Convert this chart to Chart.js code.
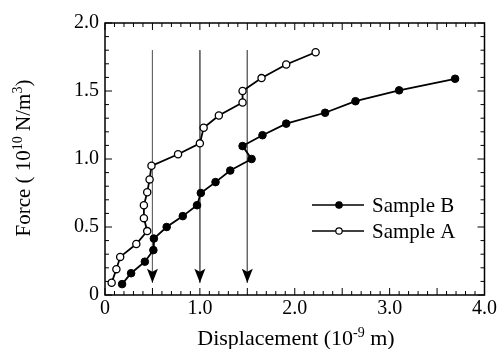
<!DOCTYPE html>
<html>
<head>
<meta charset="utf-8">
<script src="https://cdn.jsdelivr.net/npm/chart.js@4.4.1/dist/chart.umd.min.js"></script>
<style>
  html, body { margin: 0; padding: 0; background: #fff; }
  canvas { display: block; }
</style>
</head>
<body>
<canvas id="forceChart" width="499" height="349"></canvas>
<script>
/* ---------- data ---------- */
const sampleA_x = [0.07, 0.12, 0.16, 0.33, 0.445, 0.41, 0.41, 0.445, 0.47, 0.49, 0.77, 1.0, 1.04, 1.20, 1.45, 1.45, 1.65, 1.91, 2.22];
const sampleA_y = [0.09, 0.19, 0.28, 0.375, 0.47, 0.565, 0.66, 0.755, 0.85, 0.95, 1.035, 1.115, 1.23, 1.32, 1.415, 1.50, 1.595, 1.695, 1.785];
const sampleB_x = [0.18, 0.275, 0.42, 0.51, 0.515, 0.65, 0.82, 0.97, 1.01, 1.165, 1.32, 1.545, 1.45, 1.66, 1.91, 2.32, 2.64, 3.10, 3.69];
const sampleB_y = [0.08, 0.16, 0.245, 0.33, 0.415, 0.50, 0.58, 0.66, 0.75, 0.83, 0.915, 1.0, 1.095, 1.175, 1.26, 1.34, 1.425, 1.505, 1.59];
const arrowX = [0.5, 1.0, 1.5];
const arrowTop = 1.8;
const arrowTip = 0.09;
const xTicks = [0, 1, 2, 3, 4];
const yTicks = [0, 0.5, 1, 1.5, 2];
const minorStep = 0.1;
const majorStep = 0.5;

const FONT = '"Liberation Serif", "Times New Roman", serif';

function pts(xs, ys) {
  return xs.map((x, i) => ({ x: x, y: ys[i] }));
}

/* ---------- arrow datasets (vertical lines) ---------- */
const arrowSets = arrowX.map(x => ({
  label: "arrow",
  data: [{ x: x, y: arrowTop }, { x: x, y: arrowTip }],
  showLine: true,
  borderColor: "#666",
  borderWidth: 1,
  pointRadius: 0,
  isArrow: true
}));

/* ---------- plugin: box, inward ticks, arrow heads, titles, legend ---------- */
const decor = {
  id: "decor",
  afterDatasetsDraw(chart) {
    const ctx = chart.ctx;
    const xs = chart.scales.x, ys = chart.scales.y;
    const a = chart.chartArea;

    ctx.save();
    // arrow heads
    chart.data.datasets.forEach((ds, i) => {
      if (!ds.isArrow) return;
      const el = chart.getDatasetMeta(i).data[1];
      const tx = el.x, ty = el.y;
      ctx.fillStyle = "#000";
      ctx.beginPath();
      ctx.moveTo(tx, ty);
      ctx.lineTo(tx - 5.5, ty - 14);
      ctx.lineTo(tx, ty - 11);
      ctx.lineTo(tx + 5.5, ty - 14);
      ctx.closePath();
      ctx.fill();
    });

    // frame
    ctx.strokeStyle = "#000";
    ctx.lineWidth = 1.5;
    ctx.strokeRect(a.left, a.top, a.right - a.left, a.bottom - a.top);

    // inward ticks
    ctx.lineWidth = 1;
    ctx.beginPath();
    for (let v = 0; v <= 4.0001; v += minorStep) {
      const major = Math.abs(v / majorStep - Math.round(v / majorStep)) < 1e-6;
      const len = major ? 7 : 4;
      const px = xs.getPixelForValue(v);
      ctx.moveTo(px, a.bottom); ctx.lineTo(px, a.bottom - len);
      ctx.moveTo(px, a.top); ctx.lineTo(px, a.top + len);
    }
    for (let v = 0; v <= 2.0001; v += minorStep) {
      const major = Math.abs(v / majorStep - Math.round(v / majorStep)) < 1e-6;
      const len = major ? 7 : 4;
      const py = ys.getPixelForValue(v);
      ctx.moveTo(a.left, py); ctx.lineTo(a.left + len, py);
      ctx.moveTo(a.right, py); ctx.lineTo(a.right - len, py);
    }
    ctx.stroke();

    // axis titles with superscripts
    ctx.fillStyle = "#000";
    ctx.textBaseline = "alphabetic";
    drawRich(ctx, [["Displacement (10", 0], ["-9", 1], [" m)", 0]], 296, 345, 22, 14);

    ctx.save();
    ctx.translate(30, 158);
    ctx.rotate(-Math.PI / 2);
    drawRich(ctx, [["Force ( 10", 0], ["10", 1], [" N/m", 0], ["3", 1], [")", 0]], 0, 0, 21, 14);
    ctx.restore();

    // legend (Sample B first)
    const legendItems = [chart.data.datasets[0], chart.data.datasets[1]];
    legendItems.forEach((ds, i) => {
      const y = 205 + i * 26;
      ctx.strokeStyle = "#000";
      ctx.lineWidth = 1.5;
      ctx.beginPath();
      ctx.moveTo(312, y); ctx.lineTo(364, y);
      ctx.stroke();
      ctx.beginPath();
      ctx.arc(339, y, 3.2, 0, Math.PI * 2);
      ctx.fillStyle = ds.pointBackgroundColor;
      ctx.fill();
      ctx.lineWidth = 1.2;
      ctx.stroke();
      ctx.fillStyle = "#000";
      ctx.font = "21px " + FONT;
      ctx.textAlign = "left";
      ctx.textBaseline = "middle";
      ctx.fillText(ds.label, 372, y + 1);
    });
    ctx.restore();
  }
};

function drawRich(ctx, parts, cx, baseY, size, supSize) {
  const big = size + "px " + FONT, small = supSize + "px " + FONT;
  let total = 0;
  parts.forEach(p => { ctx.font = p[1] ? small : big; total += ctx.measureText(p[0]).width; });
  let x = cx - total / 2;
  ctx.textAlign = "left";
  parts.forEach(p => {
    ctx.font = p[1] ? small : big;
    ctx.fillText(p[0], x, p[1] ? baseY - 8 : baseY);
    x += ctx.measureText(p[0]).width;
  });
}

/* ---------- chart ---------- */
new Chart(document.getElementById("forceChart"), {
  type: "scatter",
  data: {
    datasets: [
      {
        label: "Sample B",
        data: pts(sampleB_x, sampleB_y),
        showLine: true,
        borderColor: "#000",
        borderWidth: 1.8,
        pointRadius: 3.8,
        pointBackgroundColor: "#000",
        pointBorderColor: "#000",
        pointBorderWidth: 1
      },
      {
        label: "Sample A",
        data: pts(sampleA_x, sampleA_y),
        showLine: true,
        borderColor: "#000",
        borderWidth: 1.8,
        pointRadius: 3.6,
        pointBackgroundColor: "#fff",
        pointBorderColor: "#000",
        pointBorderWidth: 1.3
      },
      ...arrowSets
    ]
  },
  options: {
    responsive: false,
    animation: false,
    devicePixelRatio: 1,
    layout: { padding: { top: 23, right: 14, left: 0, bottom: 0 } },
    plugins: {
      legend: { display: false },
      tooltip: { enabled: false }
    },
    scales: {
      x: {
        type: "linear",
        min: 0, max: 4,
        afterFit: s => { s.height = 54; },
        afterBuildTicks: s => { s.ticks = xTicks.map(v => ({ value: v })); },
        grid: { display: false, drawTicks: false },
        border: { display: false },
        ticks: {
          color: "#000",
          font: { family: FONT, size: 20 },
          padding: 2,
          maxRotation: 0,
          callback: v => v === 0 ? "0" : v.toFixed(1)
        }
      },
      y: {
        type: "linear",
        min: 0, max: 2,
        afterFit: s => { s.width = 105; },
        afterBuildTicks: s => { s.ticks = yTicks.map(v => ({ value: v })); },
        grid: { display: false, drawTicks: false },
        border: { display: false },
        ticks: {
          color: "#000",
          font: { family: FONT, size: 20 },
          padding: 6,
          callback: v => v === 0 ? "0" : v.toFixed(1)
        }
      }
    }
  },
  plugins: [decor]
});
</script>
</body>
</html>
